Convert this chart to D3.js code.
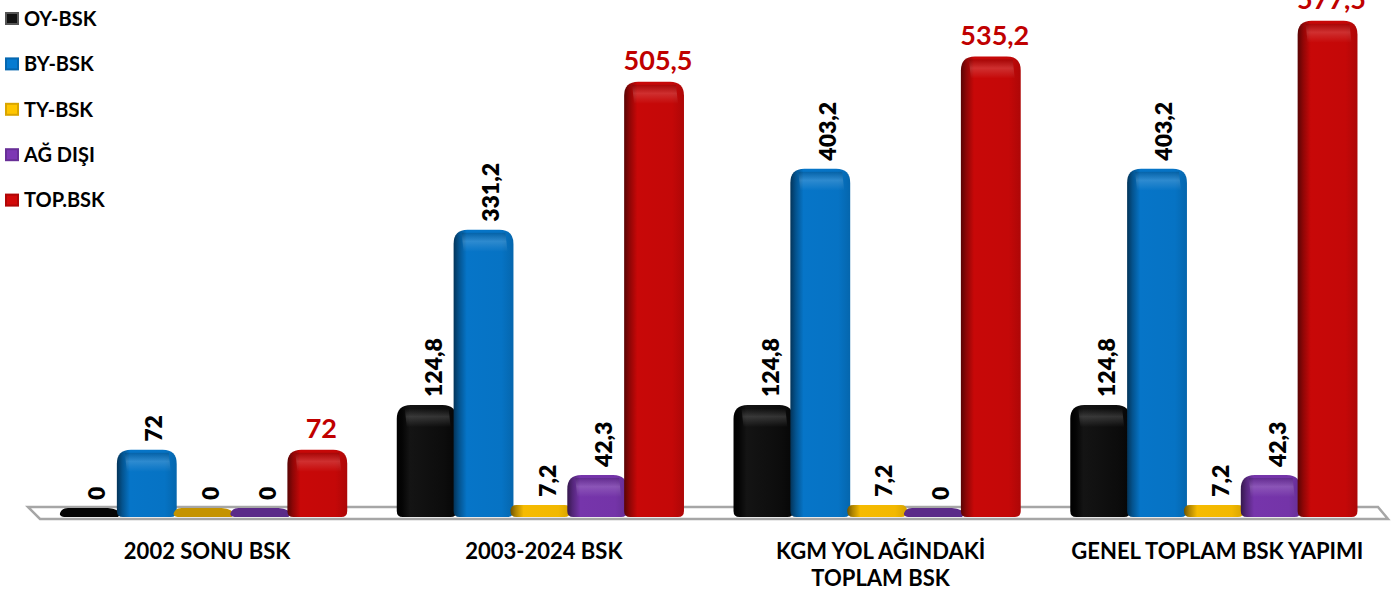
<!DOCTYPE html>
<html>
<head>
<meta charset="utf-8">
<script src="https://cdn.jsdelivr.net/npm/d3@7"></script>
<style>
html,body{margin:0;padding:0;background:#fff;}
svg{display:block;font-family:Lato,"Open Sans",sans-serif;font-weight:700;}
</style>
</head>
<body>
<svg id="chart" width="1400" height="595"></svg>
<script>
const categories = [["2002 SONU BSK"], ["2003-2024 BSK"], ["KGM YOL AĞINDAKİ", "TOPLAM BSK"], ["GENEL TOPLAM BSK YAPIMI"]];
const seriesNames = ["OY-BSK", "BY-BSK", "TY-BSK", "AĞ DIŞI", "TOP.BSK"];
const oyBsk  = [0, 124.8, 124.8, 124.8];
const byBsk  = [72, 331.2, 403.2, 403.2];
const tyBsk  = [0, 7.2, 7.2, 7.2];
const agDisi = [0, 42.3, 0, 42.3];
const topBsk = [72, 505.5, 535.2, 577.5];
const seriesValues = [oyBsk, byBsk, tyBsk, agDisi, topBsk];
const seriesColors = ["#0e0e0e", "#0673c4", "#f2b800", "#7434a8", "#c40808"];
const zeroColors = ["#050505", "#0673c4", "#c49300", "#5b2a88", "#c40808"];
const labelTexts = [
  ["0", "124,8", "124,8", "124,8"],
  ["72", "331,2", "403,2", "403,2"],
  ["0", "7,2", "7,2", "7,2"],
  ["0", "42,3", "0", "42,3"],
  ["72", "505,5", "535,2", "577,5"]
];

const svg = d3.select("#chart");
const defs = svg.append("defs");

const catKeys = categories.map(c => c.join(" "));
const x0 = d3.scaleBand().domain(catKeys).range([33.75, 1380.75]).paddingInner(0.156).paddingOuter(0.078);
const x1 = d3.scaleBand().domain(seriesNames).range([0, x0.bandwidth()]).padding(0);
const y = d3.scaleLinear().domain([0, 600]).range([511, 1.6]);
const base = 517;

// gradients
seriesColors.forEach((c, i) => {
  const col = d3.color(c);
  const g = defs.append("linearGradient").attr("id", "g" + i).attr("x1", "0").attr("x2", "1").attr("y1", "0").attr("y2", "0");
  const isBlack = i === 0;
  g.append("stop").attr("offset", "0%").attr("stop-color", isBlack ? "#000" : col.darker(2.2));
  g.append("stop").attr("offset", "9%").attr("stop-color", isBlack ? "#050505" : col.darker(0.9));
  g.append("stop").attr("offset", "22%").attr("stop-color", isBlack ? "#141414" : col.brighter(0.05));
  g.append("stop").attr("offset", "80%").attr("stop-color", isBlack ? "#0c0c0c" : c);
  g.append("stop").attr("offset", "100%").attr("stop-color", isBlack ? "#060606" : col.darker(0.35));
});
const hl = defs.append("linearGradient").attr("id", "hl").attr("x1", "0").attr("x2", "0").attr("y1", "0").attr("y2", "1");
hl.append("stop").attr("offset", "0%").attr("stop-color", "#000").attr("stop-opacity", 0.15);
hl.append("stop").attr("offset", "45%").attr("stop-color", "#fff").attr("stop-opacity", 0.16);
hl.append("stop").attr("offset", "100%").attr("stop-color", "#fff").attr("stop-opacity", 0);

// floor
const fx0 = 28, fx1 = 1378;
svg.append("path")
  .attr("d", `M${fx0},507 L${fx1},507 L${fx1 + 10},519 L${fx0 + 12},519 Z`)
  .attr("fill", "#fff").attr("stroke", "#a6a6a6").attr("stroke-width", 2.5);

function roundedTop(x, yt, w, h, r) {
  const rb = 6;
  return `M${x},${yt + r} Q${x},${yt} ${x + r},${yt} L${x + w - r},${yt} Q${x + w},${yt} ${x + w},${yt + r}` +
    ` L${x + w},${yt + h - rb} Q${x + w},${yt + h} ${x + w - rb},${yt + h} L${x + rb},${yt + h} Q${x},${yt + h} ${x},${yt + h - rb} Z`;
}

const bw = x1.bandwidth() + 3;
const groups = svg.selectAll("g.grp").data(catKeys).join("g").attr("class", "grp")
  .attr("transform", d => `translate(${x0(d)},0)`);

seriesNames.forEach((s, si) => {
  groups.each(function(cat, ci) {
    const g = d3.select(this);
    const v = seriesValues[si][ci];
    const bx = x1(s);
    if (v === 0) {
      g.append("path")
        .attr("d", `M${bx + 8},${base - 9} L${bx + bw - 12},${base - 9} Q${bx + bw},${base - 8} ${bx + bw},${base - 2} L${bx + bw - 2},${base} L${bx + 4},${base} Q${bx - 1},${base - 1} ${bx},${base - 4} Q${bx + 2},${base - 9} ${bx + 8},${base - 9} Z`)
        .attr("fill", zeroColors[si]);
    } else {
      const top = y(v);
      const h = base - top;
      const r = Math.min(14, h / 2);
      g.append("path").attr("d", roundedTop(bx, top, bw, h, r)).attr("fill", `url(#g${si})`);
      if (h > 16) {
        g.append("path")
          .attr("d", `M${bx + 8},${top + 3} L${bx + bw - 8},${top + 3} L${bx + bw - 6},${top + 22} L${bx + 10},${top + 22} Z`)
          .attr("fill", "url(#hl)");
      }
    }
  });
});

// labels
seriesNames.forEach((s, si) => {
  groups.each(function(cat, ci) {
    const g = d3.select(this);
    const v = seriesValues[si][ci];
    const cx = x1(s) + bw / 2;
    const top = v === 0 ? base - 9 : y(v);
    if (si === 4) {
      g.append("text").attr("x", cx + 4).attr("y", top - 12)
        .attr("text-anchor", "middle").attr("fill", "#c00000")
        .attr("font-size", 27).text(labelTexts[si][ci]);
    } else {
      g.append("text")
        .attr("transform", `translate(${cx + 7},${top - 8}) rotate(-90)`)
        .attr("text-anchor", "start").attr("dy", "0.36em")
        .attr("fill", "#000").attr("font-size", 23).attr("font-weight", 800).text(labelTexts[si][ci]);
    }
  });
});

// category labels
groups.each(function(cat, ci) {
  const t = d3.select(this).append("text").attr("text-anchor", "middle").attr("font-size", 22).attr("fill", "#000");
  categories[ci].forEach((line, li) => {
    t.append("tspan").attr("x", x0.bandwidth() / 2 + 5).attr("y", 559 + li * 27).text(line);
  });
});

// legend
const leg = svg.append("g");
seriesNames.forEach((s, i) => {
  const cy = 18.5 + i * 45.4;
  const col = d3.color(seriesColors[i]);
  const lg = leg.append("g").attr("transform", `translate(5,${cy - 6.5})`);
  lg.append("rect").attr("width", 14).attr("height", 13).attr("fill", i === 0 ? "#555" : col.darker(0.3));
  lg.append("rect").attr("x", 2).attr("y", 2).attr("width", 10).attr("height", 9).attr("fill", i === 0 ? "#111" : col.brighter(0.2));
  leg.append("text").attr("x", 24).attr("y", cy).attr("dy", "0.36em").attr("font-size", 20).attr("fill", "#000").text(s);
});
</script>
</body>
</html>
